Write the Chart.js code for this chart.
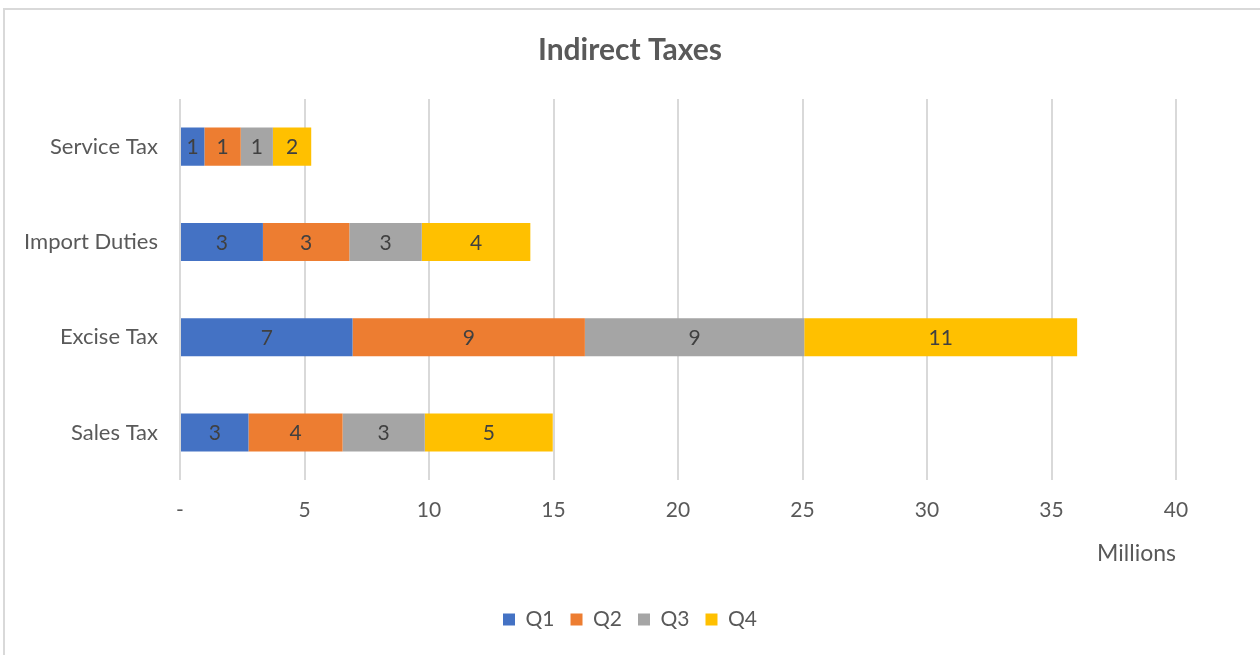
<!DOCTYPE html>
<html>
<head>
<meta charset="utf-8">
<script src="https://cdn.jsdelivr.net/npm/chart.js@4"></script>
<style>
  body { margin: 0; background: #fff; }
  #wrap { position: relative; width: 1260px; height: 655px; }
  #frame { position: absolute; left: 3px; top: 8px; width: 1300px; height: 700px;
           border-left: 2px solid #d9d9d9; border-top: 2px solid #d9d9d9; box-sizing: border-box; }
  canvas { position: absolute; left: 0; top: 0; }
</style>
</head>
<body>
<div id="wrap">
  <div id="frame"></div>
  <canvas id="myChart" width="1260" height="655"></canvas>
</div>
<script>
// tax types, top to bottom
const taxes = ['Service Tax', 'Import Duties', 'Excise Tax', 'Sales Tax'];
const quarters = ['Q1', 'Q2', 'Q3', 'Q4'];
// amounts in millions
const q1 = [0.98, 3.33, 6.93, 2.75];
const q2 = [1.46, 3.47, 9.33, 3.78];
const q3 = [1.29, 2.91, 8.81, 3.30];
const q4 = [1.54, 4.36, 10.96, 5.14];
const xTicks = [0, 5, 10, 15, 20, 25, 30, 35, 40];

const colors = ['#4472C4', '#ED7D31', '#A5A5A5', '#FFC000'];
const font = 'Lato';

// writes the rounded value in the middle of each bar piece
const barLabels = {
  id: 'barLabels',
  afterDatasetsDraw(chart) {
    const ctx = chart.ctx;
    ctx.save();
    ctx.font = '21px ' + font;
    ctx.fillStyle = '#404040';
    ctx.textAlign = 'center';
    ctx.textBaseline = 'middle';
    chart.data.datasets.forEach((ds, i) => {
      chart.getDatasetMeta(i).data.forEach((bar, j) => {
        const x = (bar.x + bar.base) / 2;
        ctx.fillText(Math.round(ds.data[j]), x, bar.y + 1);
      });
    });
    ctx.restore();
  }
};

function makeChart(){
  const ctx = document.getElementById('myChart');
  const series = [q1, q2, q3, q4];

  new Chart(ctx, {
    type: 'bar',
    data: {
      labels: taxes,
      datasets: quarters.map((q, i) => ({
        label: q,
        data: series[i],
        backgroundColor: colors[i],
        barPercentage: 0.8,
        categoryPercentage: 0.5
      }))
    },
    options: {
      indexAxis: 'y',
      responsive: false,
      animation: false,
      layout: { padding: { top: 32, right: 0, bottom: 15, left: 0 } },
      scales: {
        x: {
          stacked: true,
          min: 0,
          max: 40,
          afterBuildTicks: (scale) => { scale.ticks = xTicks.map(v => ({ value: v })); },
          grid: { color: '#d9d9d9', lineWidth: 2, drawTicks: false },
          border: { display: false },
          ticks: {
            padding: 17,
            color: '#595959',
            font: { family: font, size: 21 },
            callback: (v) => v === 0 ? '-' : v
          },
          title: {
            display: true,
            text: 'Millions',
            align: 'end',
            color: '#595959',
            font: { family: font, size: 23 },
            padding: { top: 0, bottom: 26 }
          }
        },
        y: {
          stacked: true,
          afterFit: (scale) => { scale.width = 180; },
          grid: { display: false, drawTicks: false },
          border: { display: false },
          ticks: {
            padding: 22,
            color: '#595959',
            font: { family: font, size: 22 }
          }
        },
        // empty right-hand gutter so the title and legend stay centred
        gutter: {
          type: 'linear',
          position: 'right',
          afterFit: (scale) => { scale.width = 84; },
          grid: { display: false },
          border: { display: false },
          ticks: { display: false }
        }
      },
      plugins: {
        title: {
          display: true,
          text: 'Indirect Taxes',
          color: '#595959',
          font: { family: font, size: 30, weight: 'bold' },
          padding: { top: 0, bottom: 31 }
        },
        legend: {
          position: 'bottom',
          labels: {
            boxWidth: 12,
            boxHeight: 12,
            padding: 16,
            color: '#595959',
            font: { family: font, size: 21 }
          }
        },
        tooltip: { enabled: false }
      }
    },
    plugins: [barLabels]
  });
}

makeChart();
</script>
</body>
</html>
